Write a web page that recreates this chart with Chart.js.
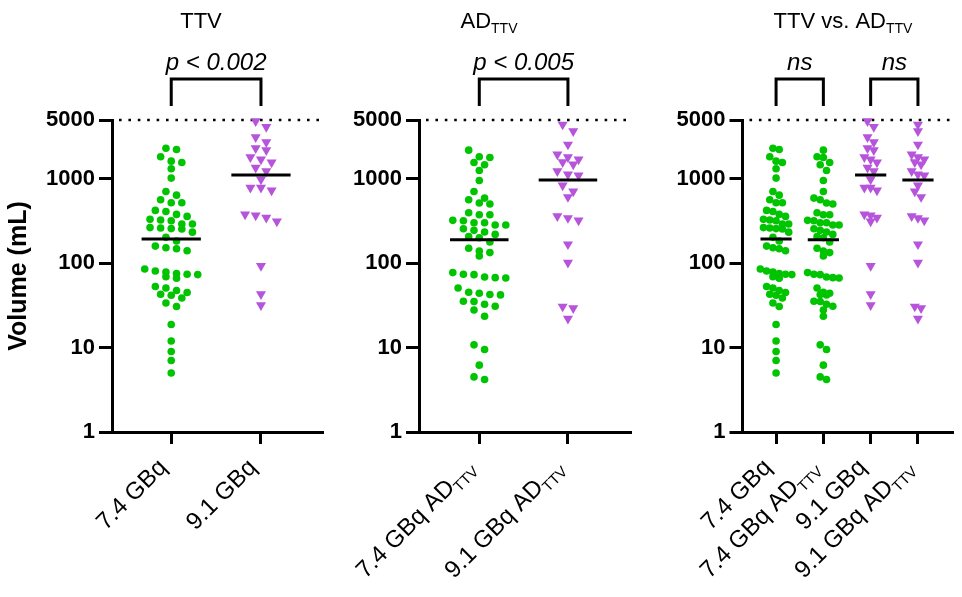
<!DOCTYPE html>
<html>
<head>
<meta charset="utf-8">
<script src="https://cdn.jsdelivr.net/npm/chart.js@4/dist/chart.umd.min.js"></script>
<style>
  body { margin: 0; background: #fff; width: 962px; height: 597px; position: relative; overflow: hidden; }
  canvas { position: absolute; top: 0; }
</style>
</head>
<body>
<canvas id="c1" width="330" height="597" style="left:0px"></canvas>
<canvas id="c2" width="310" height="597" style="left:330px"></canvas>
<canvas id="c3" width="322" height="597" style="left:640px"></canvas>
<script>
// values (mL)
const ttv74 = [2234, 2316, 1832, 1625, 1567, 1321, 1023, 711, 567, 643, 522, 522, 412, 424, 360, 380,
  320, 332, 326, 292, 292, 262, 265, 255, 234, 258, 203, 184, 153, 149, 141, 160,
  73.5, 78.9, 85.7, 69.5, 75.5, 81.1, 66.4, 74.1, 51, 43, 45, 47.5, 38.8, 53, 41.8,
  33.9, 30.7, 18.8, 12.0, 9.0, 7.05, 5.0];
const ttv91 = [4830, 4150, 3125, 2728, 2195, 2318, 1813, 1567, 1702, 1358, 1239, 987, 787, 731, 787,
  380, 314, 370, 347, 93, 43, 31.8];
const ad74 = [2195, 1796, 1830, 1472, 1567, 1261, 960, 711, 593, 567, 504, 518, 377, 377, 398,
  303, 303, 323, 320, 284, 284, 257, 246, 235, 220, 207, 201, 179, 151, 140, 134, 122,
  73.4, 68.9, 74.1, 77.6, 67.6, 67, 51, 44.2, 45.4, 42.2, 42.6, 35.5, 35.2, 31, 32.7,
  28, 23.6, 10.8, 9.5, 6.2, 4.2, 4.5];
const ad91 = [4416, 3681, 2559, 1813, 1702, 1950, 1582, 1485, 1238, 1100, 1130, 838, 711, 610,
  363, 323, 344, 168, 102, 30.7, 29.3, 22.1];

const yTicks = [1, 10, 100, 1000, 5000];
const ttvCats = ['7.4 GBq', '9.1 GBq'];
const adCats = ['7.4 GBq AD_TTV', '9.1 GBq AD_TTV'];
const bothCats = ['7.4 GBq', '7.4 GBq AD_TTV', '9.1 GBq', '9.1 GBq AD_TTV'];
const titles = ['TTV', 'AD_TTV', 'TTV vs. AD_TTV'];

const FONT = '"Liberation Sans", Arial, sans-serif';
const GREEN = 'rgb(0,196,0)';
const PURPLE = 'rgb(182,84,219)';

function median(a) {
  const s = [...a].sort((p, q) => p - q), n = s.length;
  return n % 2 ? s[(n - 1) / 2] : (s[n / 2 - 1] + s[n / 2]) / 2;
}

// "AD_TTV" -> AD with subscript TTV
function parts(s) {
  const i = s.indexOf('_');
  return i < 0 ? [{ t: s }] : [{ t: s.slice(0, i) }, { t: s.slice(i + 1), sub: true }];
}

function drawRich(ctx, s, x, y, size, style, align) {
  const ps = parts(s);
  const fMain = style + ' ' + size + 'px ' + FONT;
  const fSub = style + ' ' + Math.round(size * 0.62) + 'px ' + FONT;
  let w = 0;
  ps.forEach(p => { ctx.font = p.sub ? fSub : fMain; p.w = ctx.measureText(p.t).width; w += p.w; });
  let cx = align === 'right' ? x - w : align === 'center' ? x - w / 2 : x;
  ctx.textAlign = 'left';
  ctx.textBaseline = 'middle';
  ctx.fillStyle = '#000';
  ps.forEach(p => {
    ctx.font = p.sub ? fSub : fMain;
    ctx.fillText(p.t, cx, y + (p.sub ? size * 0.32 : 0));
    cx += p.w;
  });
}

const panels = [
  { id: 'c1', cats: ttvCats, groups: [ttv74, ttv91], title: titles[0], titleX: 201,
    yW: 112, padRight: 8, xMin: -0.66, xMax: 1.68, yTitle: true, spacing: 10.6, binH: 7.5,
    brackets: [{ a: 0, b: 1, text: 'p < 0.002', italic: true }] },
  { id: 'c2', cats: adCats, groups: [ad74, ad91], title: titles[1], titleX: 159,
    yW: 89, padRight: 10, xMin: -0.68, xMax: 1.7, yTitle: false, spacing: 10.6, binH: 7.5,
    brackets: [{ a: 0, b: 1, text: 'p < 0.005', italic: true }] },
  { id: 'c3', cats: bothCats, groups: [ttv74, ad74, ttv91, ad91], title: titles[2], titleX: 203,
    yW: 102.5, padRight: 10, xMin: -0.71, xMax: 3.72, yTitle: false, spacing: 6.3, binH: 6,
    brackets: [{ a: 0, b: 1, text: 'ns', italic: true }, { a: 2, b: 3, text: 'ns', italic: true }] }
];

function isGreen(p, gi) { return p.cats[gi].startsWith('7.4'); }

const decor = {
  id: 'decor',
  beforeDatasetsDraw(chart) {
    const { ctx, chartArea } = chart;
    const y = chart.scales.y.getPixelForValue(5000);
    ctx.save();
    ctx.strokeStyle = '#000';
    ctx.lineWidth = 2.6;
    ctx.setLineDash([2.6, 6.8]);
    ctx.beginPath();
    ctx.moveTo(chartArea.left + 7, y);
    ctx.lineTo(chartArea.right, y);
    ctx.stroke();
    ctx.restore();
  },
  afterDraw(chart) {
    const p = chart.options.plugins.decor;
    const { ctx } = chart;
    const xs = chart.scales.x;
    ctx.save();
    drawRich(ctx, p.title, p.titleX, 22, 22, 'normal', 'center');
    p.brackets.forEach(b => {
      const x1 = xs.getPixelForValue(b.a), x2 = xs.getPixelForValue(b.b);
      ctx.strokeStyle = '#000';
      ctx.lineWidth = 3;
      ctx.lineJoin = 'miter';
      ctx.beginPath();
      ctx.moveTo(x1, 106);
      ctx.lineTo(x1, 79);
      ctx.lineTo(x2, 79);
      ctx.lineTo(x2, 106);
      ctx.stroke();
      drawRich(ctx, b.text, (x1 + x2) / 2, 63, 24, b.italic ? 'italic' : 'normal', 'center');
    });
    p.cats.forEach((c, i) => {
      const x = xs.getPixelForValue(i);
      ctx.save();
      ctx.translate(x - 8, 464);
      ctx.rotate(-Math.PI / 4);
      drawRich(ctx, c, 0, 0, 24, 'normal', 'right');
      ctx.restore();
    });
    ctx.restore();
  }
};

function swarm(chart, p) {
  const xs = chart.scales.x, ys = chart.scales.y;
  const unit = xs.getPixelForValue(1) - xs.getPixelForValue(0);
  p.groups.forEach((vals, gi) => {
    const pts = vals.map(v => ({ v, py: ys.getPixelForValue(v) })).sort((a, b) => a.py - b.py);
    const out = [];
    let i = 0;
    while (i < pts.length) {
      let j = i;
      while (j < pts.length && pts[j].py - pts[i].py < p.binH) j++;
      const n = j - i;
      for (let k = 0; k < n; k++) {
        out.push({ x: gi + (k - (n - 1) / 2) * p.spacing / unit, y: pts[i + k].v });
      }
      i = j;
    }
    chart.data.datasets[p.groups.length + gi].data = out;
  });
  chart.update('none');
}

panels.forEach(p => {
  const medians = p.groups.map((vals, gi) => ({
    type: 'line',
    data: [{ x: gi - 0.33, y: median(vals) }, { x: gi + 0.33, y: median(vals) }],
    borderColor: '#000',
    borderWidth: 3,
    pointRadius: 0,
    order: 0
  }));
  const dots = p.groups.map((vals, gi) => {
    const g = isGreen(p, gi);
    return {
      type: 'scatter',
      data: vals.map(v => ({ x: gi, y: v })),
      backgroundColor: g ? GREEN : PURPLE,
      borderWidth: 0,
      pointStyle: g ? 'circle' : 'triangle',
      pointRotation: g ? 0 : 180,
      pointRadius: g ? 3.8 : 5.8,
      pointHoverRadius: g ? 3.8 : 5.8,
      clip: false,
      order: 1
    };
  });
  const chart = new Chart(document.getElementById(p.id), {
    type: 'scatter',
    data: { datasets: medians.concat(dots) },
    options: {
      responsive: false,
      animation: false,
      events: [],
      layout: { padding: { top: 120, right: p.padRight, left: 0, bottom: 0 } },
      plugins: {
        legend: { display: false },
        tooltip: { enabled: false },
        decor: { title: p.title, titleX: p.titleX, brackets: p.brackets, cats: p.cats }
      },
      scales: {
        x: {
          type: 'linear',
          min: p.xMin,
          max: p.xMax,
          afterBuildTicks: s => { s.ticks = p.cats.map((c, i) => ({ value: i })); },
          afterFit: s => { s.height = 165; },
          ticks: { display: false },
          grid: { drawOnChartArea: false, drawTicks: true, tickLength: 12, lineWidth: 3, color: '#000' },
          border: { width: 3, color: '#000' }
        },
        y: {
          type: 'logarithmic',
          min: 1,
          max: 5000,
          afterBuildTicks: s => { s.ticks = yTicks.map(v => ({ value: v })); },
          afterFit: s => { s.width = p.yW; },
          ticks: {
            callback: v => String(v),
            color: '#000',
            padding: 4,
            font: { family: FONT, size: 22, weight: 'bold' }
          },
          grid: { drawOnChartArea: false, drawTicks: true, tickLength: 13, lineWidth: 3, color: '#000' },
          border: { width: 3, color: '#000' },
          title: {
            display: p.yTitle,
            text: 'Volume (mL)',
            color: '#000',
            padding: { top: 4, bottom: 0 },
            font: { family: FONT, size: 25, weight: 'bold' }
          }
        }
      }
    },
    plugins: [decor]
  });
  swarm(chart, p);
});
</script>
</body>
</html>
